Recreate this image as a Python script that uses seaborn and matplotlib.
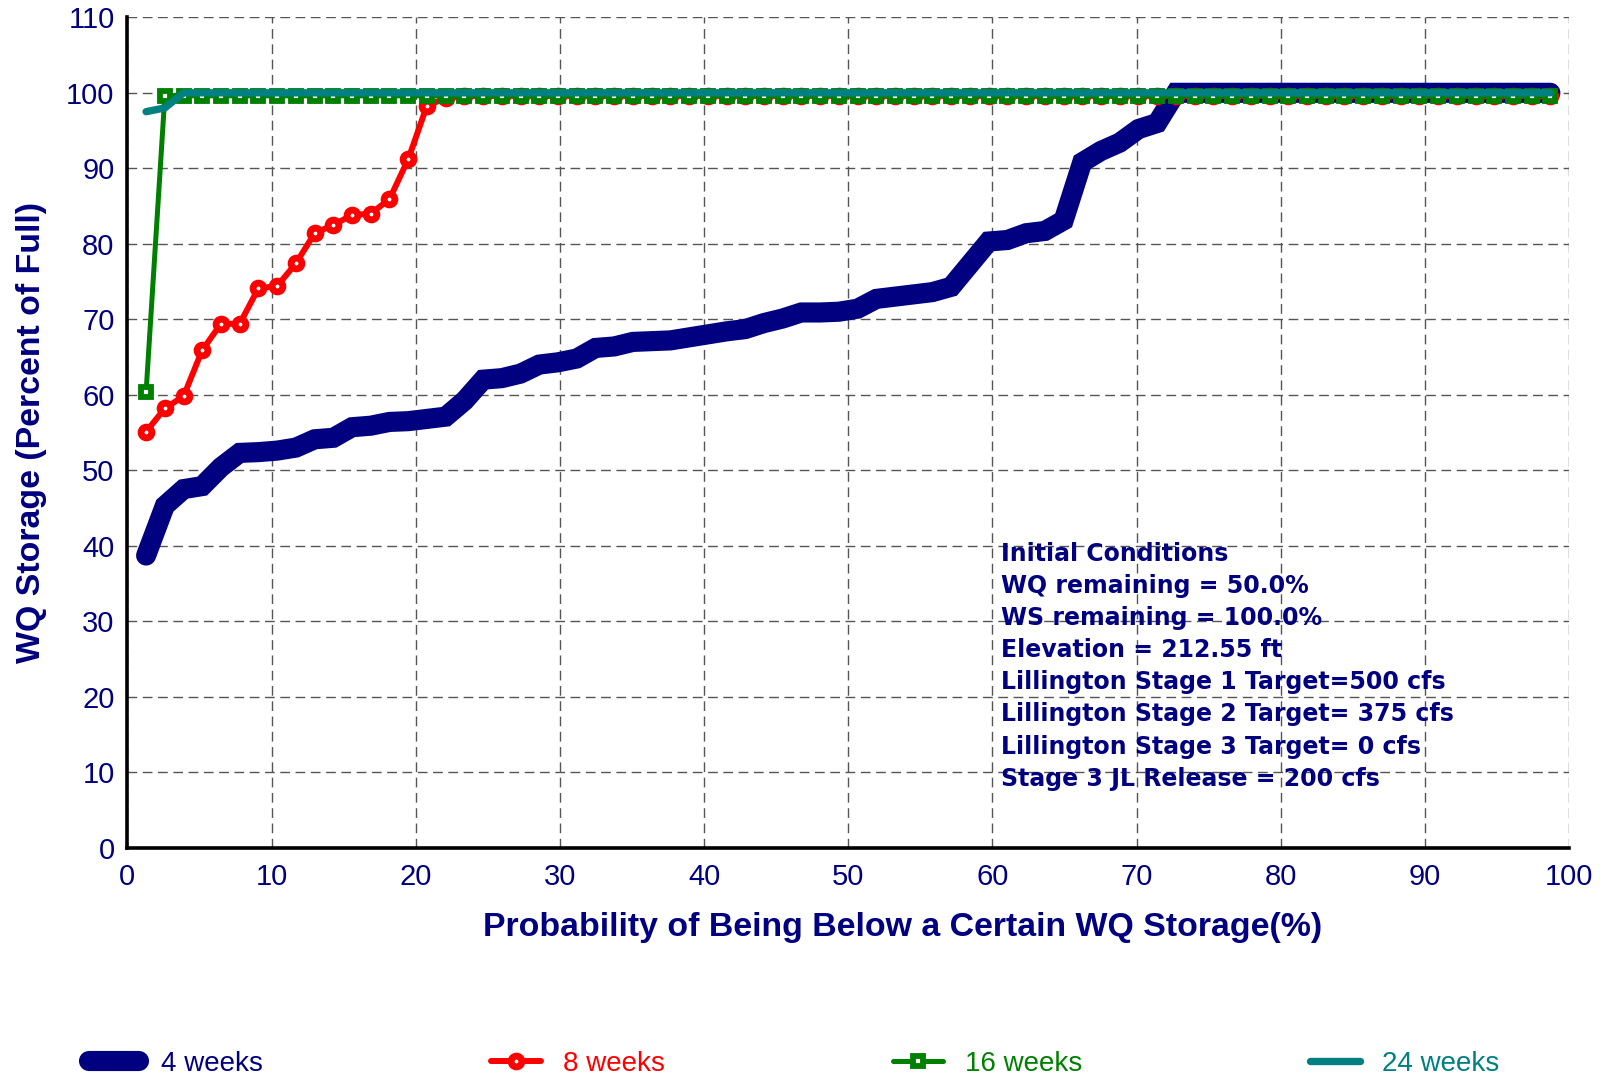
import matplotlib

matplotlib.use("Agg")
import matplotlib.pyplot as plt
import pandas as pd
import seaborn as sns
from matplotlib.ticker import AutoMinorLocator, MultipleLocator

# probability positions (%) shared by all series
prob = [1.30, 2.60, 3.90, 5.19, 6.49, 7.79, 9.09, 10.39, 11.69, 12.99,
        14.29, 15.58, 16.88, 18.18, 19.48, 20.78, 22.08, 23.38, 24.68, 25.97,
        27.27, 28.57, 29.87, 31.17, 32.47, 33.77, 35.06, 36.36, 37.66, 38.96,
        40.26, 41.56, 42.86, 44.16, 45.45, 46.75, 48.05, 49.35, 50.65, 51.95,
        53.25, 54.55, 55.84, 57.14, 58.44, 59.74, 61.04, 62.34, 63.64, 64.94,
        66.23, 67.53, 68.83, 70.13, 71.43, 72.73, 74.03, 75.32, 76.62, 77.92,
        79.22, 80.52, 81.82, 83.12, 84.42, 85.71, 87.01, 88.31, 89.61, 90.91,
        92.21, 93.51, 94.81, 96.10, 97.40, 98.70]

weeks_4 = [38.7, 45.3, 47.5, 47.9, 50.4, 52.3, 52.4, 52.6, 53.0, 54.1,
           54.3, 55.7, 55.9, 56.4, 56.5, 56.8, 57.1, 59.2, 62.0, 62.2,
           62.8, 64.0, 64.3, 64.8, 66.2, 66.4, 67.0, 67.1, 67.2, 67.6,
           68.0, 68.4, 68.7, 69.5, 70.1, 70.9, 70.9, 71.0, 71.4, 72.7,
           73.0, 73.3, 73.6, 74.3, 77.3, 80.3, 80.5, 81.4, 81.7, 83.1,
           90.8, 92.3, 93.4, 95.2, 96.0] + [100.0] * 21
weeks_8 = [55.1, 58.2, 59.8, 65.9, 69.4, 69.4, 74.1, 74.4, 77.4, 81.4,
           82.5, 83.8, 84.0, 85.9, 91.2, 98.3, 99.3] + [99.6] * 59
weeks_16 = [60.4] + [99.6] * 75
weeks_24 = [97.5, 98.0] + [100.0] * 74

series_names = ["4 weeks", "8 weeks", "16 weeks", "24 weeks"]
series_colors = ["#000080", "#ff0000", "#008000", "#008080"]

notes = [
    "Initial Conditions",
    "WQ remaining = 50.0%",
    "WS remaining = 100.0%",
    "Elevation = 212.55 ft",
    "Lillington Stage 1 Target=500 cfs",
    "Lillington Stage 2 Target= 375 cfs",
    "Lillington Stage 3 Target= 0 cfs",
    "Stage 3 JL Release = 200 cfs",
]

NAVY = "#000080"

sns.set_style("white")
plt.rcParams["font.family"] = ["Liberation Sans", "DejaVu Sans"]

fig = plt.figure(figsize=(16, 10.76), dpi=100)
ax = fig.add_axes([0.0796, 0.2122, 0.9011, 0.7717])

df = pd.DataFrame({"prob": prob, "w4": weeks_4, "w8": weeks_8,
                   "w16": weeks_16, "w24": weeks_24})

sns.lineplot(data=df, x="prob", y="w4", ax=ax, color=series_colors[0],
             linewidth=14.5, solid_capstyle="round", solid_joinstyle="miter",
             label=series_names[0], zorder=2)
sns.lineplot(data=df, x="prob", y="w8", ax=ax, color=series_colors[1],
             linewidth=4.3, marker="o", markersize=7.8, markerfacecolor="white",
             markeredgecolor=series_colors[1], markeredgewidth=4.9,
             label=series_names[1], zorder=3)
sns.lineplot(data=df, x="prob", y="w16", ax=ax, color=series_colors[2],
             linewidth=3.6, marker="s", markersize=7.2, markerfacecolor="white",
             markeredgecolor=series_colors[2], markeredgewidth=4.2,
             label=series_names[2], zorder=4)
sns.lineplot(data=df, x="prob", y="w24", ax=ax, color=series_colors[3],
             linewidth=5.3, solid_capstyle="round",
             label=series_names[3], zorder=5)

ax.set_xlim(0, 100)
ax.set_ylim(0, 110)
ax.xaxis.set_major_locator(MultipleLocator(10))
ax.xaxis.set_minor_locator(AutoMinorLocator(2))
ax.yaxis.set_major_locator(MultipleLocator(10))
ax.yaxis.set_minor_locator(AutoMinorLocator(6))

ax.grid(True, which="major", color="#555555", linewidth=1.0, linestyle=(0, (7, 4)))
ax.set_axisbelow(True)

for side in ["top", "right"]:
    ax.spines[side].set_visible(False)
for side in ["left", "bottom"]:
    ax.spines[side].set_linewidth(2.6)
    ax.spines[side].set_color("black")
    ax.spines[side].set_zorder(6)

ax.tick_params(axis="y", which="major", direction="inout", length=16.5, width=2.2,
               color="black", labelsize=21, labelcolor=NAVY, pad=1)
ax.tick_params(axis="y", which="minor", direction="inout", length=10, width=2.0,
               color="black")
ax.tick_params(axis="x", which="major", direction="inout", length=14, width=2.0,
               color="black", labelsize=21, labelcolor=NAVY, pad=4)
ax.tick_params(axis="x", which="minor", direction="inout", length=11, width=2.0,
               color="black")

ax.set_xlabel("Probability of Being Below a Certain WQ Storage(%)", fontsize=24.4,
              fontweight="bold", color=NAVY, labelpad=15, x=0.538)
ax.set_ylabel("WQ Storage (Percent of Full)", fontsize=24.4, fontweight="bold",
              color=NAVY, labelpad=14)

for k, line in enumerate(notes):
    ax.annotate(line, xy=(60.6, 38.95), xycoords="data",
                xytext=(0, -k * 23.15), textcoords="offset points",
                fontsize=17, fontweight="bold", color=NAVY,
                family=["DejaVu Sans"], ha="left", va="center", zorder=7)

handles, labels = ax.get_legend_handles_labels()
ax.get_legend().remove()
leg = fig.legend(handles, labels, loc="center left", bbox_to_anchor=(0.0555, 0.011),
                 ncol=4, frameon=False, fontsize=20, handlelength=1.8,
                 handletextpad=0.8, columnspacing=8.2, borderpad=0,
                 borderaxespad=0, numpoints=1)
for text, col in zip(leg.get_texts(), series_colors):
    text.set_color(col)

fig.savefig("out.png", dpi=100)
plt.close(fig)
